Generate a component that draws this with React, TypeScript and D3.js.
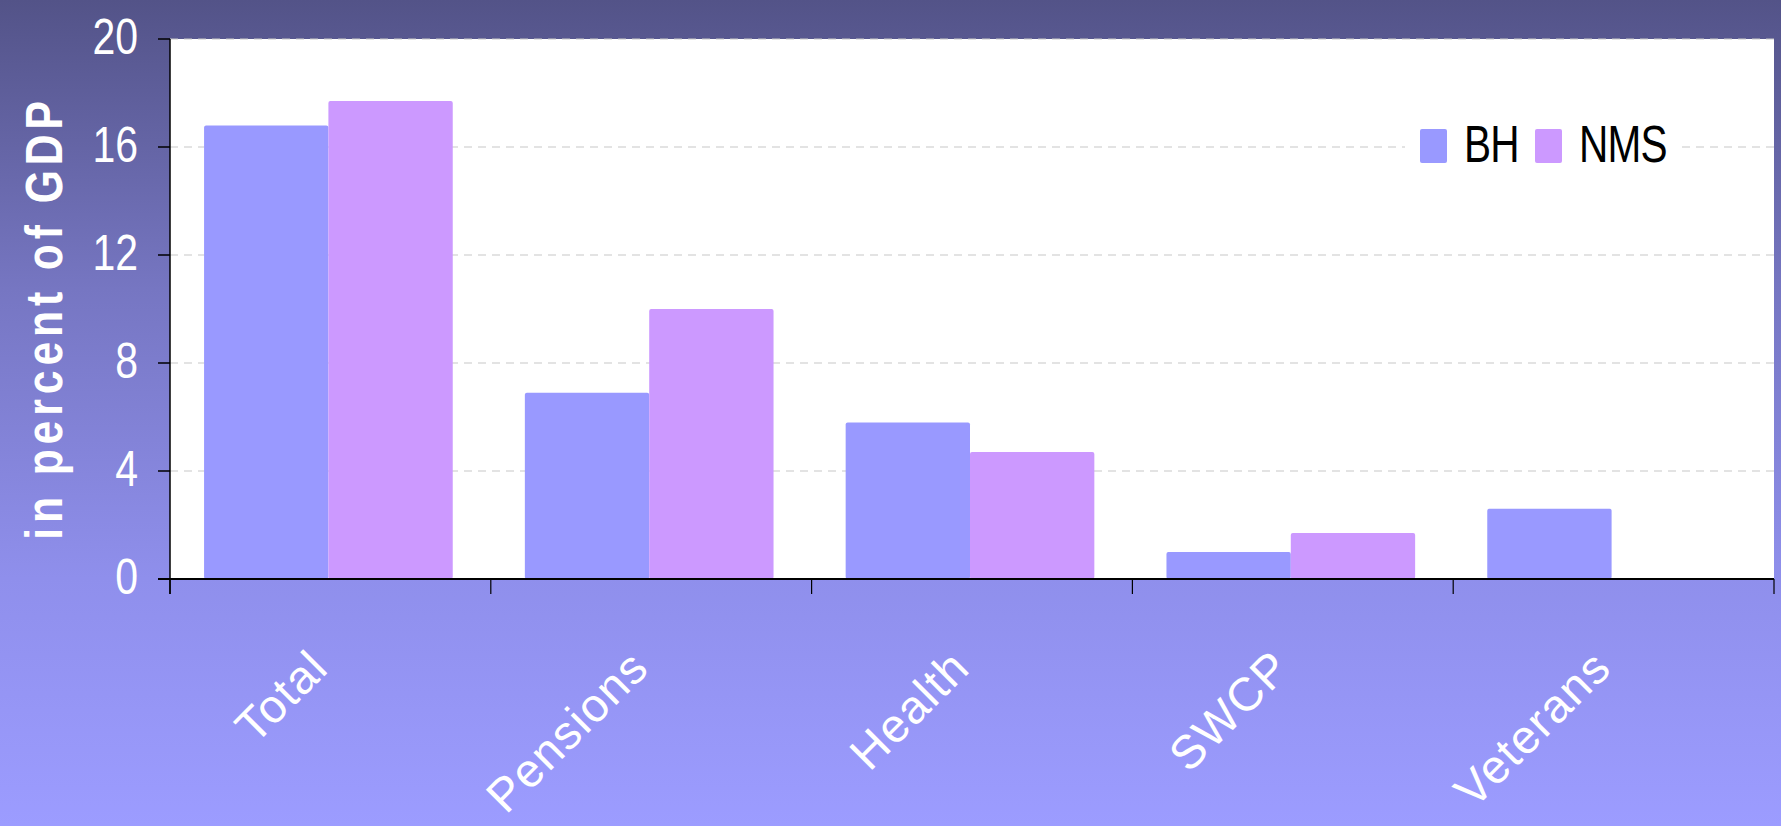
import React, { useEffect, useRef } from "react"
import * as d3 from "d3"

// chart data
const categories = ["Total", "Pensions", "Health", "SWCP", "Veterans"]
const seriesNames = ["BH", "NMS"]
const bhValues = [16.8, 6.9, 5.8, 1.0, 2.6]
const nmsValues = [17.7, 10.0, 4.7, 1.7, 0]
const yTicks = [0, 4, 8, 12, 16, 20]
const seriesColors = ["#9999ff", "#cc99ff"]

const W = 1781
const H = 826
// no narrow font installed, so squeeze the regular one
const NARROW = 0.82

export default function App() {
    const svgRef = useRef<SVGSVGElement>(null)

    useEffect(() => {
        if (!svgRef.current) return
        document.body.style.margin = "0"

        const svg = d3.select(svgRef.current)
        svg.selectAll("*").remove()

        const left = 170, right = 1774, top = 39, bottom = 579

        /**
         * Background gradient, dark slate at top to light periwinkle at bottom
         */
        const defs = svg.append("defs")
        const grad = defs.append("linearGradient")
            .attr("id", "bg")
            .attr("x1", 0).attr("y1", 0).attr("x2", 0).attr("y2", 1)
        grad.append("stop").attr("offset", "0%").attr("stop-color", "#535388")
        grad.append("stop").attr("offset", "35%").attr("stop-color", "#7676c2")
        grad.append("stop").attr("offset", "70%").attr("stop-color", "#8f8fec")
        grad.append("stop").attr("offset", "100%").attr("stop-color", "#9c9cff")

        svg.append("rect")
            .attr("width", W).attr("height", H)
            .attr("fill", "url(#bg)")

        // plot area
        svg.append("rect")
            .attr("x", left).attr("y", top)
            .attr("width", right - left).attr("height", bottom - top)
            .attr("fill", "#ffffff")

        const y = d3.scaleLinear().domain([0, 20]).range([bottom, top])
        const x0 = d3.scaleBand<string>().domain(categories).range([left, right]).padding(0)
        const x1 = d3.scaleBand<string>().domain(seriesNames)
            .range([-2, x0.bandwidth() - 2]).paddingInner(0).paddingOuter(0.29)

        // dashed gridlines
        svg.append("g")
            .selectAll("line")
            .data(yTicks.filter(d => d > 0))
            .join("line")
            .attr("x1", left).attr("x2", right)
            .attr("y1", d => y(d)).attr("y2", d => y(d))
            .attr("stroke", "#c8c8c8")
            .attr("stroke-width", 1.2)
            .attr("stroke-dasharray", "8,6")

        const rows = categories.map((c, i) => ({ cat: c, values: [bhValues[i], nmsValues[i]] }))

        /**
         * Grouped bars
         */
        svg.append("g")
            .selectAll("g")
            .data(rows)
            .join("g")
            .attr("transform", d => `translate(${x0(d.cat)},0)`)
            .selectAll("rect")
            .data(d => d.values.map((v, j) => ({ key: seriesNames[j], value: v, idx: j })).filter(d => d.value > 0))
            .join("rect")
            .attr("x", d => x1(d.key)!)
            .attr("y", d => y(d.value))
            .attr("width", x1.bandwidth())
            .attr("height", d => bottom - y(d.value))
            .attr("rx", 2)
            .attr("fill", d => seriesColors[d.idx])

        // y axis
        svg.append("line")
            .attr("x1", left).attr("x2", left)
            .attr("y1", top).attr("y2", bottom + 15)
            .attr("stroke", "#000").attr("stroke-width", 1.5)
        svg.append("g")
            .selectAll("line")
            .data(yTicks)
            .join("line")
            .attr("x1", left - 12).attr("x2", left)
            .attr("y1", d => y(d)).attr("y2", d => y(d))
            .attr("stroke", "#000").attr("stroke-width", 1.5)
        svg.append("g")
            .selectAll("text")
            .data(yTicks)
            .join("text")
            .attr("transform", d => `translate(138,${y(d) + 15}) scale(${NARROW},1)`)
            .attr("text-anchor", "end")
            .attr("fill", "#ffffff")
            .style("font-family", "'Liberation Sans', Arial, sans-serif")
            .style("font-size", "50px")
            .text(d => d)

        // x axis
        svg.append("line")
            .attr("x1", left - 12).attr("x2", right)
            .attr("y1", bottom).attr("y2", bottom)
            .attr("stroke", "#000").attr("stroke-width", 2)
        const xTickPos = categories.map(c => x0(c)!).concat([right])
        svg.append("g")
            .selectAll("line")
            .data(xTickPos)
            .join("line")
            .attr("x1", d => d).attr("x2", d => d)
            .attr("y1", bottom).attr("y2", bottom + 15)
            .attr("stroke", "#000").attr("stroke-width", 1.2)
        svg.append("g")
            .selectAll("text")
            .data(categories)
            .join("text")
            .attr("transform", d => `translate(${x0(d)! + x0.bandwidth() / 2},670) rotate(-45)`)
            .attr("text-anchor", "end")
            .attr("fill", "#ffffff")
            .style("font-family", "'Liberation Sans', Arial, sans-serif")
            .style("font-size", "47px")
            .style("letter-spacing", "1.5px")
            .text(d => d)

        // y axis title
        svg.append("text")
            .attr("transform", `translate(62,318) rotate(-90) scale(${NARROW},1)`)
            .attr("text-anchor", "middle")
            .attr("fill", "#ffffff")
            .style("font-family", "'Liberation Sans', Arial, sans-serif")
            .style("font-weight", "bold")
            .style("font-size", "52px")
            .style("letter-spacing", "6px")
            .text("in percent of GDP")

        /**
         * Legend
         */
        svg.append("rect")
            .attr("x", 1405).attr("y", 110)
            .attr("width", 275).attr("height", 75)
            .attr("fill", "#ffffff")
        const legendX = [1420, 1535]
        const lg = svg.append("g")
            .selectAll("g")
            .data(seriesNames)
            .join("g")
            .attr("transform", (d, i) => `translate(${legendX[i]},0)`)
        lg.append("rect")
            .attr("x", 0).attr("y", 129)
            .attr("width", 27).attr("height", 34)
            .attr("rx", 2)
            .attr("fill", (d, i) => seriesColors[i])
        lg.append("text")
            .attr("transform", `translate(44,162) scale(0.78,1)`)
            .attr("fill", "#000")
            .style("font-family", "'Liberation Sans', Arial, sans-serif")
            .style("font-size", "52px")
            .style("letter-spacing", "-1px")
            .text(d => d)
    }, [])

    return (
        <svg ref={svgRef} width={W} height={H}
            style={{ position: "absolute", left: 0, top: 0, display: "block" }} />
    )
}
